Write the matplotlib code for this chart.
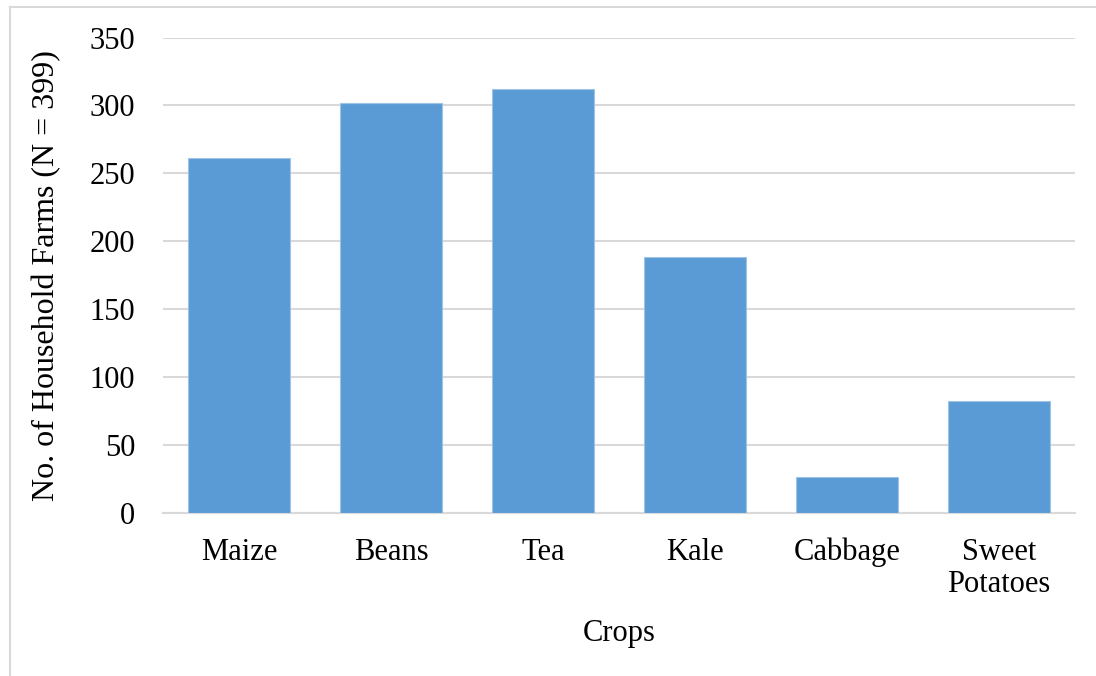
import matplotlib
matplotlib.use("Agg")
import matplotlib.pyplot as plt
from matplotlib.lines import Line2D

crops = ["Maize", "Beans", "Tea", "Kale", "Cabbage", "Sweet\nPotatoes"]
farms = [261, 302, 312, 188, 26, 82]
y_ticks = [0, 50, 100, 150, 200, 250, 300, 350]

W, H = 1096, 676
FS = 22
plt.rcParams["font.family"] = ["Liberation Serif", "DejaVu Serif"]

fig = plt.figure(figsize=(W / 100, H / 100), dpi=100)
ax = fig.add_axes([163 / W, (H - 512.6) / H, (1075 - 163) / W, 475 / H])

x = range(len(crops))
ax.bar(x, farms, width=0.665, color="#5B9BD5", edgecolor="#9DC3E6",
       linewidth=0.8, zorder=3)

ax.set_xlim(-0.5, len(crops) - 0.5)
ax.set_ylim(0, 350)
ax.set_yticks(y_ticks)
ax.set_xticks(list(x))
ax.set_xticklabels(crops, fontsize=FS, linespacing=1.15)
ax.tick_params(axis="both", length=0, labelsize=FS, colors="black")
ax.tick_params(axis="y", pad=20)
ax.tick_params(axis="x", pad=18)

ax.grid(axis="y", color="#d9d9d9", linewidth=1.5, zorder=0)
for side in ("top", "right", "left"):
    ax.spines[side].set_visible(False)
ax.spines["bottom"].set_color("#d9d9d9")
ax.spines["bottom"].set_linewidth(1.5)

ax.set_ylabel("No. of Household Farms (N = 399)", fontsize=23)
ax.yaxis.set_label_coords((47 - 163) / (1075 - 163), 0.5)
ax.set_xlabel("Crops", fontsize=FS)
ax.xaxis.set_label_coords((619 - 163) / (1075 - 163), -(633 - 512.6) / 475)
ax.xaxis.label.set_va("center")
ax.yaxis.label.set_va("center")

# light frame around the chart area
fig.add_artist(Line2D([10 / W, 10 / W], [0, 1 - 7 / H], transform=fig.transFigure,
                      color="#d9d9d9", linewidth=1.5))
fig.add_artist(Line2D([10 / W, 1], [1 - 7 / H, 1 - 7 / H], transform=fig.transFigure,
                      color="#d9d9d9", linewidth=1.5))

fig.savefig("out.png", dpi=100, facecolor="white")
